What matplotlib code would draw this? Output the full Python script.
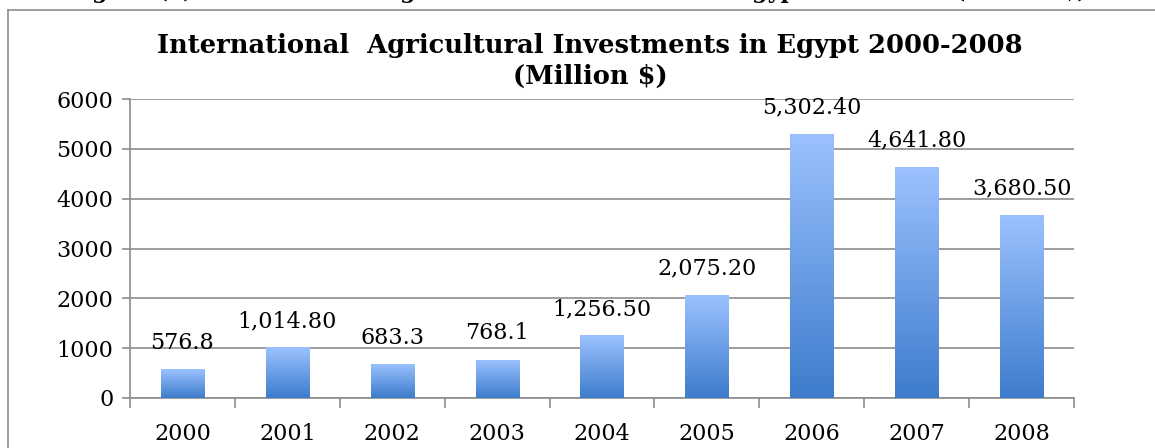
import numpy as np
import matplotlib.pyplot as plt
from matplotlib.colors import LinearSegmentedColormap
from matplotlib.patches import Rectangle

# DATA
years = ["2000", "2001", "2002", "2003", "2004", "2005", "2006", "2007", "2008"]
values = [576.8, 1014.8, 683.3, 768.1, 1256.5, 2075.2, 5302.4, 4641.8, 3680.5]
value_labels = ["576.8", "1,014.80", "683.3", "768.1", "1,256.50",
                "2,075.20", "5,302.40", "4,641.80", "3,680.50"]
title = "International  Agricultural Investments in Egypt 2000-2008\n(Million $)"
caption = "Figure (1): International Agricultural Investments in Egypt 2000-2008 (Million $)"

plt.rcParams['font.family'] = ['DejaVu Serif']

W, H = 1155, 448
fig = plt.figure(figsize=(W / 100, H / 100), dpi=100)
ax = fig.add_axes([130 / W, 1 - 398 / H, (1074 - 130) / W, (398 - 99) / H])

# chart frame (left and top edges visible)
fig.add_artist(plt.Line2D([8 / W, 8 / W], [0, 1 - 10 / H], color="#8c8c8c", lw=1.2))
fig.add_artist(plt.Line2D([8 / W, 1], [1 - 10 / H, 1 - 10 / H], color="#8c8c8c", lw=1.2))
# caption of the page, mostly cut off above the chart
fig.text(0.5, 1 + 2 / H, caption, ha="center", va="baseline", fontsize=16, fontweight="bold")

x = np.arange(len(years))
bw = 0.41
cmap = LinearSegmentedColormap.from_list("grad", ["#3d7ccc", "#9cc2ff"])
grad = np.linspace(0, 1, 256).reshape(-1, 1)

for xi, v, lab in zip(x, values, value_labels):
    rect = Rectangle((xi - bw / 2, 0), bw, v, facecolor="none", edgecolor="none")
    ax.add_patch(rect)
    im = ax.imshow(grad, cmap=cmap, origin="lower", aspect="auto",
                   extent=(xi - bw / 2, xi + bw / 2, 0, v), zorder=3)
    im.set_clip_path(rect)
    ax.annotate(lab, (xi, v), xytext=(0, 11), textcoords="offset points",
                ha="center", va="bottom", fontsize=16)

ax.set_xlim(-0.5, len(years) - 0.5)
ax.set_ylim(0, 6000)
ax.set_yticks(np.arange(0, 6001, 1000))
ax.set_xticks(x)
ax.set_xticklabels(years)
ax.set_xticks(np.arange(-0.5, len(years), 1), minor=True)
ax.tick_params(axis="x", which="major", length=0, pad=18, labelsize=16)
ax.tick_params(axis="x", which="minor", length=7, color="#8c8c8c", width=1.2)
ax.tick_params(axis="y", length=6, color="#8c8c8c", width=1.2, labelsize=16, pad=6)
ax.grid(axis="y", color="#8c8c8c", lw=1.2, zorder=0)
ax.set_axisbelow(True)
for s in ["top", "right"]:
    ax.spines[s].set_visible(False)
for s in ["left", "bottom"]:
    ax.spines[s].set_color("#8c8c8c")
    ax.spines[s].set_linewidth(1.2)

fig.text(590 / W, 1 - 61 / H, title, ha="center", va="center",
         fontsize=18.5, fontweight="bold", linespacing=1.25)

fig.savefig("out.png", dpi=100)
